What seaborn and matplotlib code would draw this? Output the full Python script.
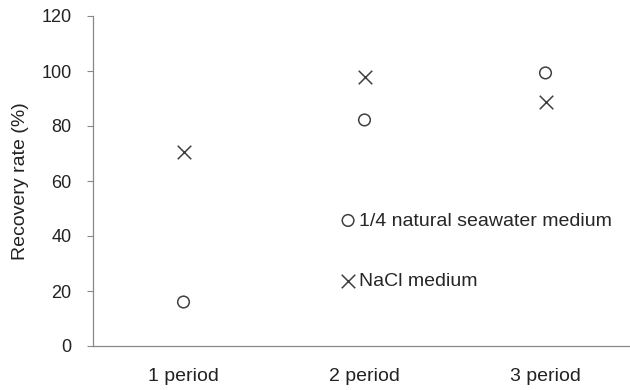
import pandas as pd
import matplotlib.pyplot as plt
import seaborn as sns

periods = ["1 period", "2 period", "3 period"]
seawater = [16.0, 82.2, 99.3]
nacl = [70.5, 97.8, 88.7]

sns.set_style("white")
plt.rcParams["font.family"] = ["Liberation Sans", "DejaVu Sans"]

df = pd.DataFrame({"period": periods, "seawater": seawater, "nacl": nacl})

fig = plt.figure(figsize=(6.3, 3.9), dpi=100)
# the right end of the axis runs slightly past the picture, like the original
ax = fig.add_axes([93 / 630, 44 / 390, 543 / 630, 330 / 390])

sns.scatterplot(data=df, x="period", y="seawater", marker="o", s=70,
                facecolor="none", edgecolor="#404040", linewidth=1.1,
                label="1/4 natural seawater medium", ax=ax)
sns.scatterplot(data=df, x="period", y="nacl", marker="x", s=95,
                color="#404040", linewidth=1.1,
                label="NaCl medium", ax=ax)

ax.set_xlim(-0.5, 2.5)
ax.set_ylim(0, 120)
ax.set_yticks(range(0, 121, 20))
ax.set_xlabel("")
ax.set_ylabel("Recovery rate (%)", fontsize=14, color="#222222", labelpad=9)
ax.tick_params(axis="y", length=4.5, width=0.8, color="#888888", labelsize=13,
               labelcolor="#222222", left=True, pad=11)
ax.tick_params(axis="x", length=0, labelsize=14, labelcolor="#222222", pad=16)

for side in ["top", "right"]:
    ax.spines[side].set_visible(False)
for side in ["left", "bottom"]:
    ax.spines[side].set_color("#888888")
    ax.spines[side].set_linewidth(0.9)

ax.legend(loc="center left", bbox_to_anchor=(0.416, 0.288), frameon=False,
          fontsize=14, labelspacing=2.2, handletextpad=-0.05, handlelength=1.2)

fig.savefig("out.png", dpi=100)
